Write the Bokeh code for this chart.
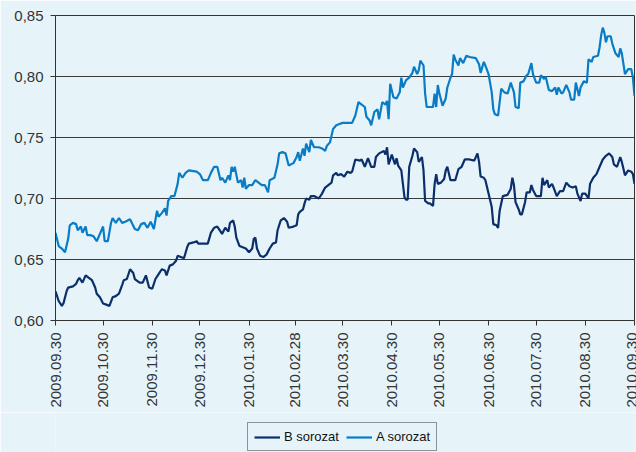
import pandas as pd
from bokeh.plotting import figure
from bokeh.layouts import column
from bokeh.models import (ColumnDataSource, FixedTicker, DatetimeTickFormatter,
                          CustomJSTickFormatter, Legend, LegendItem, Range1d)
from bokeh.embed import file_html
from bokeh.resources import INLINE

start_date = "2009-09-30"
end_date = "2010-09-30"

a_days = [0, 2, 4, 6, 8, 9, 11, 13, 14, 16, 17, 19, 20, 22, 24, 26, 28, 30, 31, 33, 35, 36, 38, 40, 42, 44, 47, 50, 52, 54,
          56, 58, 60, 62, 64, 65, 67, 69, 70, 71, 73, 75, 77, 78, 80, 82, 84, 89, 91, 93, 96, 98, 100, 102, 104, 105, 107, 109, 110, 111,
          112, 113, 115, 117, 118, 119, 120, 122, 124, 126, 128, 130, 132, 134, 135, 138, 140, 141, 143, 145, 147, 150, 152, 153, 154, 156, 157, 158, 160, 161,
          163, 166, 168, 170, 171, 173, 175, 177, 179, 181, 182, 187, 189, 191, 193, 195, 196, 198, 199, 201, 203, 204, 206, 208, 209, 210, 211, 213, 215, 217,
          218, 219, 221, 223, 225, 226, 228, 229, 230, 232, 233, 234, 236, 238, 239, 240, 241, 242, 244, 246, 247, 249, 250, 251, 252, 254, 255, 257, 259, 261,
          265, 267, 268, 270, 271, 273, 275, 276, 277, 279, 281, 283, 285, 287, 289, 290, 292, 293, 295, 297, 298, 300, 301, 303, 305, 306, 308, 309, 311, 313,
          315, 316, 317, 319, 320, 322, 324, 325, 327, 328, 330, 331, 333, 335, 336, 338, 339, 342, 343, 344, 345, 346, 347, 348, 350, 351, 353, 355, 356, 357,
          359, 361, 363, 364, 365]
a_values = [0.672, 0.661, 0.659, 0.656, 0.667, 0.678, 0.680, 0.679, 0.674, 0.677, 0.672, 0.677, 0.670, 0.670, 0.669, 0.665, 0.671, 0.677, 0.665, 0.665, 0.680, 0.684, 0.680, 0.684, 0.680, 0.681, 0.683, 0.675, 0.674, 0.679,
            0.680, 0.676, 0.681, 0.675, 0.690, 0.685, 0.688, 0.692, 0.686, 0.698, 0.702, 0.702, 0.712, 0.721, 0.717, 0.721, 0.723, 0.722, 0.720, 0.715, 0.715, 0.721, 0.726, 0.726, 0.715, 0.717, 0.713, 0.719, 0.715, 0.726,
            0.722, 0.726, 0.713, 0.715, 0.709, 0.717, 0.708, 0.711, 0.711, 0.715, 0.713, 0.711, 0.711, 0.705, 0.715, 0.717, 0.728, 0.737, 0.738, 0.737, 0.727, 0.729, 0.734, 0.738, 0.731, 0.741, 0.735, 0.745, 0.738, 0.748,
            0.742, 0.742, 0.741, 0.739, 0.743, 0.746, 0.757, 0.760, 0.761, 0.762, 0.762, 0.762, 0.768, 0.779, 0.777, 0.775, 0.767, 0.764, 0.760, 0.771, 0.773, 0.765, 0.779, 0.777, 0.780, 0.765, 0.794, 0.783, 0.782, 0.787,
            0.799, 0.791, 0.797, 0.799, 0.803, 0.808, 0.802, 0.805, 0.813, 0.809, 0.786, 0.775, 0.775, 0.775, 0.786, 0.775, 0.793, 0.786, 0.776, 0.782, 0.791, 0.799, 0.802, 0.818, 0.814, 0.809, 0.815, 0.811, 0.817, 0.816,
            0.815, 0.810, 0.803, 0.812, 0.809, 0.802, 0.787, 0.773, 0.769, 0.768, 0.790, 0.787, 0.786, 0.795, 0.787, 0.775, 0.774, 0.795, 0.796, 0.801, 0.802, 0.811, 0.802, 0.795, 0.795, 0.801, 0.798, 0.800, 0.789, 0.788,
            0.791, 0.785, 0.791, 0.786, 0.787, 0.793, 0.787, 0.781, 0.781, 0.795, 0.784, 0.791, 0.796, 0.795, 0.814, 0.812, 0.816, 0.817, 0.824, 0.834, 0.840, 0.836, 0.828, 0.833, 0.833, 0.827, 0.819, 0.816, 0.823, 0.819,
            0.802, 0.806, 0.806, 0.799, 0.784]

b_days = [0, 2, 4, 5, 7, 8, 11, 13, 14, 15, 17, 19, 21, 23, 25, 26, 28, 30, 32, 34, 36, 38, 40, 42, 43, 45, 47, 49, 50, 53,
          55, 57, 59, 61, 63, 65, 67, 69, 70, 72, 74, 76, 77, 79, 81, 83, 84, 87, 89, 90, 93, 96, 98, 100, 102, 104, 105, 107, 109, 110,
          112, 113, 114, 116, 118, 120, 122, 124, 125, 126, 127, 129, 131, 133, 135, 137, 139, 140, 142, 144, 146, 147, 150, 152, 153, 154, 156, 157, 158, 160,
          161, 163, 166, 168, 170, 172, 174, 175, 177, 178, 180, 182, 184, 186, 187, 189, 192, 193, 195, 197, 199, 201, 202, 204, 207, 208, 209, 210, 212, 214,
          215, 216, 218, 220, 221, 222, 223, 225, 226, 228, 229, 231, 232, 233, 235, 236, 238, 239, 240, 241, 243, 245, 246, 247, 249, 250, 252, 254, 256, 258,
          261, 264, 266, 267, 268, 270, 271, 273, 275, 276, 278, 279, 280, 282, 285, 287, 288, 289, 290, 292, 293, 294, 296, 297, 299, 300, 301, 303, 306, 307,
          308, 310, 311, 313, 314, 316, 318, 320, 322, 324, 326, 328, 329, 331, 332, 334, 336, 337, 339, 341, 343, 345, 347, 349, 351, 352, 354, 356, 357, 359,
          361, 363, 364, 365]
b_values = [0.624, 0.616, 0.612, 0.614, 0.624, 0.627, 0.628, 0.630, 0.633, 0.635, 0.631, 0.637, 0.635, 0.633, 0.627, 0.622, 0.619, 0.614, 0.613, 0.612, 0.619, 0.620, 0.622, 0.629, 0.633, 0.634, 0.642, 0.639, 0.634, 0.631,
            0.631, 0.637, 0.627, 0.626, 0.634, 0.638, 0.642, 0.641, 0.637, 0.645, 0.646, 0.649, 0.653, 0.652, 0.651, 0.660, 0.663, 0.664, 0.665, 0.663, 0.663, 0.663, 0.672, 0.676, 0.677, 0.673, 0.671, 0.676, 0.673, 0.680,
            0.682, 0.677, 0.668, 0.661, 0.660, 0.659, 0.656, 0.659, 0.667, 0.668, 0.659, 0.653, 0.652, 0.654, 0.659, 0.663, 0.664, 0.674, 0.682, 0.684, 0.681, 0.676, 0.677, 0.678, 0.687, 0.689, 0.691, 0.696, 0.700, 0.699,
            0.702, 0.702, 0.700, 0.704, 0.709, 0.711, 0.713, 0.719, 0.721, 0.719, 0.720, 0.718, 0.722, 0.721, 0.722, 0.732, 0.731, 0.732, 0.726, 0.733, 0.726, 0.726, 0.734, 0.737, 0.739, 0.736, 0.742, 0.728, 0.736, 0.728,
            0.733, 0.727, 0.723, 0.701, 0.699, 0.699, 0.726, 0.735, 0.741, 0.738, 0.730, 0.734, 0.723, 0.698, 0.696, 0.696, 0.694, 0.712, 0.720, 0.712, 0.713, 0.716, 0.723, 0.726, 0.715, 0.715, 0.715, 0.724, 0.726, 0.732,
            0.732, 0.731, 0.737, 0.730, 0.718, 0.717, 0.715, 0.704, 0.693, 0.679, 0.678, 0.676, 0.690, 0.702, 0.703, 0.708, 0.717, 0.711, 0.697, 0.691, 0.687, 0.687, 0.697, 0.705, 0.705, 0.711, 0.707, 0.702, 0.702, 0.717,
            0.711, 0.715, 0.709, 0.712, 0.709, 0.702, 0.706, 0.706, 0.713, 0.710, 0.709, 0.710, 0.704, 0.698, 0.704, 0.704, 0.700, 0.712, 0.717, 0.720, 0.726, 0.732, 0.735, 0.737, 0.734, 0.728, 0.726, 0.734, 0.730, 0.719,
            0.723, 0.722, 0.720, 0.712]

tick_dates = ["2009-09-30", "2009-10-30", "2009-11-30", "2009-12-30", "2010-01-30", "2010-02-28", "2010-03-30",
              "2010-04-30", "2010-05-30", "2010-06-30", "2010-07-30", "2010-08-30", "2010-09-30"]
y_ticks = [0.60, 0.65, 0.70, 0.75, 0.80, 0.85]
series_names = ["B sorozat", "A sorozat"]

BG = "#E6F4FA"
COL_B = "#0B2F6B"
COL_A = "#0A7CC6"
FONT = "Liberation Sans"
TXT = "#333333"

t0 = pd.Timestamp(start_date)
src_a = ColumnDataSource(dict(x=[t0 + pd.Timedelta(days=d) for d in a_days], y=a_values))
src_b = ColumnDataSource(dict(x=[t0 + pd.Timedelta(days=d) for d in b_days], y=b_values))

p = figure(width=636, height=412, x_axis_type="datetime", output_backend="svg", toolbar_location=None,
           x_range=Range1d(pd.Timestamp(start_date), pd.Timestamp(end_date)),
           y_range=Range1d(0.60, 0.85),
           min_border_left=55, min_border_right=2, min_border_top=15, min_border_bottom=92)
p.background_fill_color = BG
p.border_fill_color = BG
p.outline_line_color = "#333333"
p.outline_line_width = 1

r_b = p.line("x", "y", source=src_b, line_color=COL_B, line_width=2.2)
r_a = p.line("x", "y", source=src_a, line_color=COL_A, line_width=2.2)

p.xgrid.visible = False
p.ygrid.ticker = FixedTicker(ticks=y_ticks)
p.ygrid.grid_line_color = "#3a3a3a"
p.ygrid.grid_line_width = 1

tick_ms = [pd.Timestamp(d).value / 1e6 for d in tick_dates]
xa = p.xaxis[0]
xa.ticker = FixedTicker(ticks=tick_ms)
fmt = "%Y.%m.%d"
xa.formatter = DatetimeTickFormatter(microseconds=fmt, milliseconds=fmt, seconds=fmt, minsec=fmt, minutes=fmt,
                                     hourmin=fmt, hours=fmt, days=fmt, months=fmt, years=fmt)
xa.major_label_orientation = 3.14159265 / 2
xa.minor_tick_line_color = None

ya = p.yaxis[0]
ya.ticker = FixedTicker(ticks=y_ticks)
ya.formatter = CustomJSTickFormatter(code="return tick.toFixed(2).replace('.', ',');")
ya.minor_tick_line_color = None

for ax in (xa, ya):
    ax.axis_line_color = "#333333"
    ax.major_tick_line_color = "#333333"
    ax.major_tick_in = 0
    ax.major_tick_out = 5
    ax.major_label_standoff = 7
    ax.major_label_text_font = FONT
    ax.major_label_text_font_size = "15px"
    ax.major_label_text_color = TXT

# legend strip below the chart (its swatch lines lie outside its visible range)
lg = figure(width=636, height=40, output_backend="svg", toolbar_location=None,
            x_range=Range1d(0, 1), y_range=Range1d(0, 1),
            x_axis_location=None, y_axis_location=None,
            min_border_left=0, min_border_right=0, min_border_top=0, min_border_bottom=0)
lg.background_fill_color = BG
lg.border_fill_color = BG
lg.outline_line_color = None
lg.grid.visible = False
lr_b = lg.line(x=[5, 6], y=[5, 6], line_color=COL_B, line_width=2.2)
lr_a = lg.line(x=[5, 6], y=[5, 6], line_color=COL_A, line_width=2.2)

legend = Legend(items=[LegendItem(label=series_names[0], renderers=[lr_b]),
                       LegendItem(label=series_names[1], renderers=[lr_a])],
                orientation="horizontal", location=(192, 1))
legend.background_fill_color = BG
legend.background_fill_alpha = 1
legend.border_line_color = "#333333"
legend.border_line_width = 1
legend.label_text_font = FONT
legend.label_text_font_size = "13px"
legend.label_text_color = "#111111"
legend.glyph_width = 26
legend.glyph_height = 14
legend.label_height = 14
legend.label_standoff = 4
legend.padding = 6
legend.spacing = 7
legend.margin = 0
lg.add_layout(legend, "center")

layout = column(p, lg, spacing=0)

html = file_html(layout, INLINE)
html = html.replace("<body>", '<body style="background-color:#E6F4FA;">', 1)
open("out.html", "w").write(html)
